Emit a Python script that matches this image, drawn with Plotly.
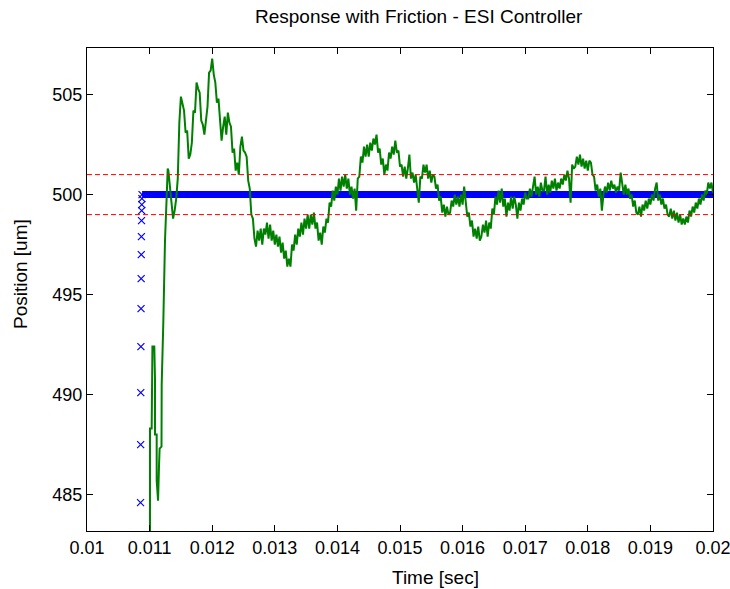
import numpy as np
import plotly.graph_objects as go

# ---- reference trajectory (blue): ramp samples, then hold at the setpoint ----
ref_ramp_t = [0.010855, 0.010857, 0.010859, 0.010861, 0.010863, 0.010865,
              0.010867, 0.010869, 0.010871, 0.010873, 0.010875, 0.010877, 0.010879]
ref_ramp_pos = [484.6, 487.5, 490.1, 492.4, 494.3, 495.8, 497.0, 497.9,
                498.7, 499.2, 499.5, 499.8, 500.0]
ref_hold_t = [0.01088, 0.0200]
ref_hold_pos = [500.0, 500.0]

# ---- tolerance band (red dashed) ----
band_t = [0.0100, 0.0200]
band_upper = [501.0, 501.0]
band_lower = [499.0, 499.0]

# ---- measured position (green) ----
# start-up transient, sample-and-hold steps
start_t = [0.011006, 0.011006, 0.011033, 0.011033, 0.011045, 0.011075, 0.011086,
           0.011086, 0.011113, 0.011113, 0.011135, 0.011150, 0.011160, 0.011190,
           0.011193, 0.011219, 0.011246, 0.011273, 0.011289]
start_pos = [480.0, 488.3, 488.3, 491.0, 492.4, 492.4, 490.8,
             488.0, 488.0, 485.7, 484.7, 486.4, 487.3, 487.4,
             490.5, 493.6, 497.7, 499.9, 501.3]

# logged samples from t0 onward, fixed sample period
log_t0 = 0.0113
log_dt = 0.000025
log_pos = [
    501.2, 500.5, 499.5, 498.8, 499.2, 499.8, 500.8, 503.6, 504.9, 504.5,
    504.2, 503.1, 503.2, 501.8, 502.0, 502.6, 504.2, 504.1, 505.6, 505.3,
    505.1, 503.7, 503.5, 503.0, 503.9, 504.4, 506.1, 506.2, 506.8, 506.0,
    505.6, 504.6, 504.8, 503.5, 502.7, 503.4, 503.9, 503.0, 504.1, 503.6,
    503.4, 502.1, 502.3, 501.2, 501.6, 501.0, 502.4, 502.9, 502.2, 502.1,
    501.9, 500.7, 500.3, 499.0, 498.8, 497.8, 497.4, 498.2, 497.7, 498.3,
    497.5, 498.3, 498.0, 498.6, 497.8, 498.5, 497.7, 498.2, 497.5, 498.0,
    497.4, 497.9, 497.1, 497.6, 496.8, 497.2, 496.4, 496.8, 496.4, 497.5,
    497.2, 498.0, 497.5, 498.3, 497.9, 498.6, 498.0, 498.8, 498.3, 499.0,
    498.3, 499.0, 498.5, 499.1, 498.3, 498.6, 497.7, 498.1, 497.5, 498.4,
    498.1, 498.8, 498.6, 499.6, 499.4, 500.2, 499.7, 500.4, 500.0, 500.8,
    500.2, 500.9, 500.4, 501.0, 500.3, 500.8, 500.0, 500.4, 499.8, 500.3,
    499.2, 500.8, 500.9, 501.9, 501.6, 502.4, 501.9, 502.5, 501.9, 502.6,
    502.2, 502.8, 502.5, 503.0, 502.1, 502.3, 501.5, 501.8, 501.0, 501.5,
    501.2, 502.1, 501.8, 502.4, 502.0, 502.7, 502.1, 502.2, 501.4, 501.5,
    500.9, 501.4, 500.8, 501.3, 502.0, 500.8, 501.1, 500.6, 501.0, 500.3,
    499.6, 500.9, 500.8, 501.5, 501.1, 501.5, 500.8, 501.2, 500.6, 501.0,
    500.9, 500.3, 500.5, 499.7, 499.9, 499.1, 499.5, 498.9, 499.4, 499.0,
    499.1, 499.7, 499.4, 500.0, 499.5, 499.9, 499.4, 500.0, 499.5, 500.4,
    499.6, 498.9, 499.1, 498.4, 498.7, 497.9, 498.3, 497.8, 498.4, 497.7,
    497.9, 498.5, 498.1, 498.7, 497.9, 498.6, 498.3, 499.3, 499.0, 499.9,
    499.5, 500.2, 499.6, 500.3, 499.4, 499.8, 498.9, 499.6, 499.2, 499.9,
    499.3, 499.9, 499.5, 498.8, 499.6, 499.2, 499.8, 499.5, 500.1, 499.8,
    499.8, 500.3, 499.9, 500.5, 500.9, 500.0, 500.4, 499.9, 500.6, 500.2,
    500.2, 500.9, 500.0, 500.5, 500.1, 500.7, 500.3, 500.8, 500.2, 500.6,
    500.3, 500.8, 500.5, 501.0, 500.7, 501.2, 500.8, 499.6, 501.5, 501.3,
    501.4, 501.9, 501.5, 502.0, 501.4, 501.8, 501.3, 501.7, 501.2, 501.7,
    501.6, 501.0, 500.9, 500.2, 500.5, 499.9, 500.3, 499.2, 500.0, 500.4,
    500.1, 500.6, 500.2, 500.7, 500.3, 500.5, 500.1, 500.4, 500.2, 501.1,
    500.6, 500.0, 500.5, 500.0, 500.3, 499.8, 500.0, 499.4, 499.7, 499.1,
    499.0, 499.4, 498.9, 499.5, 499.2, 499.7, 499.3, 499.8, 499.5, 500.0,
    499.7, 500.3, 500.6, 499.7, 500.0, 499.5, 499.8, 499.3, 499.5, 499.0,
    498.9, 499.3, 498.8, 499.2, 498.7, 499.1, 498.6, 499.0, 498.5, 498.8,
    498.5, 498.9, 498.6, 499.2, 498.9, 499.4, 499.1, 499.6, 499.3, 499.8,
    499.5, 500.0, 499.7, 500.2, 500.0, 500.6, 500.3, 500.6, 500.1,
]
log_t = list(log_t0 + log_dt * np.arange(len(log_pos)))

resp_t = start_t + log_t
resp_pos = start_pos + log_pos

# ---- axes ----
x_ticks = [0.010, 0.011, 0.012, 0.013, 0.014, 0.015, 0.016, 0.017, 0.018, 0.019, 0.020]
x_labels = ["0.01", "0.011", "0.012", "0.013", "0.014", "0.015", "0.016",
            "0.017", "0.018", "0.019", "0.02"]
y_ticks = [485, 490, 495, 500, 505]
y_labels = ["485", "490", "495", "500", "505"]

FONT = "Liberation Sans, Arial, sans-serif"

fig = go.Figure()

fig.add_trace(go.Scatter(
    x=ref_hold_t, y=ref_hold_pos, mode="lines",
    line=dict(color="#0000ff", width=7), hoverinfo="skip", showlegend=False))
fig.add_trace(go.Scatter(
    x=ref_ramp_t, y=ref_ramp_pos, mode="markers",
    marker=dict(symbol="x-thin", size=7, color="#0000ff",
                line=dict(color="#0000ff", width=1.2)),
    showlegend=False))

fig.add_trace(go.Scatter(
    x=resp_t, y=resp_pos, mode="lines",
    line=dict(color="#008000", width=2), showlegend=False))

for lvl in (band_upper, band_lower):
    fig.add_trace(go.Scatter(
        x=band_t, y=lvl, mode="lines",
        line=dict(color="#ff0000", width=1, dash="5px,3px"), showlegend=False))

axis_common = dict(
    showgrid=False, zeroline=False, showline=True, linecolor="#000000",
    linewidth=1, mirror="ticks", ticks="inside", ticklen=6, tickcolor="#000000",
    tickfont=dict(family=FONT, size=18, color="#000000"),
    ticklabeloverflow="allow", automargin=False,
)

fig.update_layout(
    width=730, height=589,
    margin=dict(l=87, r=17, t=48, b=58, autoexpand=False),
    paper_bgcolor="white", plot_bgcolor="white",
    xaxis=dict(range=[0.0099999, 0.0200001], tickvals=x_ticks, ticktext=x_labels,
               **axis_common),
    yaxis=dict(range=[483.18, 507.33], tickvals=y_ticks, ticktext=y_labels,
               **axis_common),
    annotations=[
        dict(text="Response with Friction - ESI Controller", xref="paper", yref="paper",
             x=0.531, y=1.0, xanchor="center", yanchor="middle", yshift=32,
             showarrow=False, font=dict(family=FONT, size=19, color="#000000")),
        dict(text="Time [sec]", xref="paper", yref="paper",
             x=0.5575, y=0.0, xanchor="center", yanchor="middle", yshift=-46,
             showarrow=False, font=dict(family=FONT, size=19, color="#000000")),
        dict(text="Position [um]", xref="paper", yref="paper",
             x=0.0, y=0.532, xanchor="center", yanchor="middle", xshift=-67,
             textangle=-90, showarrow=False,
             font=dict(family=FONT, size=19, color="#000000")),
    ],
)

fig.write_html("out.html")
